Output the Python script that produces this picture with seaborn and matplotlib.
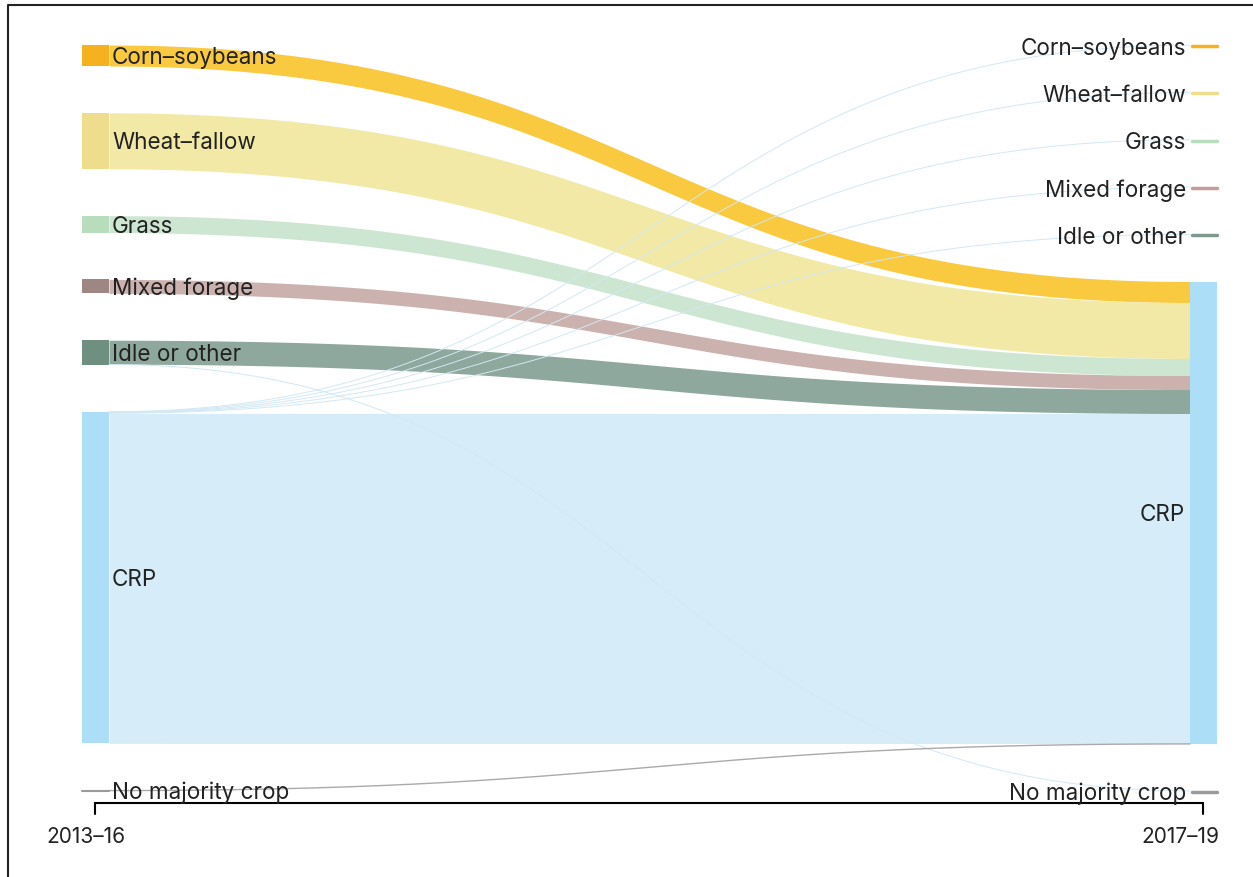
import numpy as np
import matplotlib
matplotlib.use("Agg")
import matplotlib.pyplot as plt
import seaborn as sns

sns.set_theme(style="white")
plt.rcParams['font.family'] = ['Inter', 'DejaVu Sans']

# ---- data ----
categories = ["Corn\u2013soybeans", "Wheat\u2013fallow", "Grass", "Mixed forage",
              "Idle or other", "CRP", "No majority crop"]
flow_source = ["Corn\u2013soybeans", "Wheat\u2013fallow", "Grass", "Mixed forage",
               "Idle or other", "Idle or other",
               "CRP", "CRP", "CRP", "CRP", "CRP", "CRP", "No majority crop"]
flow_target = ["CRP", "CRP", "CRP", "CRP",
               "CRP", "No majority crop",
               "Corn\u2013soybeans", "Wheat\u2013fallow", "Grass", "Mixed forage",
               "Idle or other", "CRP", "CRP"]
flow_value = [21, 56, 17, 14, 24, 0.6, 0.3, 0.5, 0.3, 0.3, 0.4, 330, 0.8]
period_labels = ["2013\u201316", "2017\u201319"]

node_colors = {"Corn\u2013soybeans": "#F5B120", "Wheat\u2013fallow": "#EEDD8C",
               "Grass": "#B8DDBD", "Mixed forage": "#9E8782",
               "Idle or other": "#6F9080", "CRP": "#ACDFF7", "No majority crop": "#9A9A9A"}
right_mark_colors = {"Corn\u2013soybeans": "#F5B120", "Wheat\u2013fallow": "#EEDD8C",
                     "Grass": "#B8DDBD", "Mixed forage": "#C49C9A",
                     "Idle or other": "#7E9A8E", "CRP": "#ACDFF7", "No majority crop": "#9A9A9A"}
flow_colors = {"Corn\u2013soybeans": "#F9C940", "Wheat\u2013fallow": "#F3E9A6",
               "Grass": "#CDE6D2", "Mixed forage": "#CCB2AF",
               "Idle or other": "#8FA89D", "CRP": "#D6ECF9", "No majority crop": "#AAAAAA"}

# ---- layout ----
W, H = 1253, 877
fig = plt.figure(figsize=(W/100, H/100), dpi=100)
ax = fig.add_axes([0, 0, 1, 1])
ax.set_xlim(0, W); ax.set_ylim(H, 0); ax.axis("off")

top = 45
gaps = (46.8, 46.3)
xl0, xl1 = 82, 109
xr0, xr1 = 1190, 1217
FS = 16.2

def node_totals(side):
    tot = {c: 0.0 for c in categories}
    for s, t, v in zip(flow_source, flow_target, flow_value):
        tot[s if side == 0 else t] += v
    return tot

pos = []
for side in (0, 1):
    tot = node_totals(side)
    y = top
    p = {}
    for c in categories:
        h = tot[c]
        p[c] = [y, h]
        y += max(h, 1) + gaps[side]
    pos.append(p)

src_off = {c: pos[0][c][0] for c in categories}
tgt_off = {c: pos[1][c][0] for c in categories}
src_y, tgt_y = {}, {}
for i in sorted(range(len(flow_value)),
                key=lambda i: (categories.index(flow_source[i]), categories.index(flow_target[i]))):
    src_y[i] = src_off[flow_source[i]]; src_off[flow_source[i]] += flow_value[i]
for i in sorted(range(len(flow_value)),
                key=lambda i: (categories.index(flow_target[i]), categories.index(flow_source[i]))):
    tgt_y[i] = tgt_off[flow_target[i]]; tgt_off[flow_target[i]] += flow_value[i]

t = np.linspace(0, 1, 600)
xm = (xl1 + xr0) / 2
bx = xl1*(1-t)**3 + 3*xm*(1-t)**2*t + 3*xm*(1-t)*t**2 + xr0*t**3
bs = 3*t**2 - 2*t**3
xs = np.linspace(xl1, xr0, 600)
s = np.interp(xs, bx, bs)
for i, v in enumerate(flow_value):
    y0, y1 = src_y[i], tgt_y[i]
    yt = y0 + (y1 - y0) * s
    col = flow_colors[flow_source[i]]
    if v >= 2:
        ax.fill_between(xs, yt, yt + v, color=col, lw=0)
    elif flow_source[i] == "No majority crop":
        ax.plot(xs, yt + v / 2, color="#AAAAAA", lw=1.0)
    else:
        ax.plot(xs, yt + v / 2, color="#D2E8F4", lw=0.7)

dy = 2.5
for c in categories:
    y, h = pos[0][c]
    if h >= 2:
        ax.fill_between([xl0, xl1], y, y + h, color=node_colors[c], lw=0)
    else:
        ax.plot([xl0, xl1], [y + h/2, y + h/2], color=node_colors[c], lw=1.5)
    ax.text(xl1 + 3, y + h/2 + dy, c, ha="left", va="center", fontsize=FS, color="#222222")
    y, h = pos[1][c]
    if h >= 2:
        ax.fill_between([xr0, xr1], y, y + h, color=right_mark_colors[c], lw=0)
        ax.text(xr0 - 5, y + h/2 + dy, c, ha="right", va="center", fontsize=FS, color="#222222")
    else:
        ax.plot([xr0 + 2, xr1], [y + 1, y + 1], color=right_mark_colors[c], lw=2.5)
        ax.text(xr0 - 4, y + 1 + dy, c, ha="right", va="center", fontsize=FS, color="#222222")

ya = 803
ax.plot([95, 1203], [ya, ya], color="black", lw=1.5)
for x, lab in zip([95, 1203], period_labels):
    ax.plot([x, x], [ya, ya + 11], color="black", lw=1.5)
    ax.text(x - 9 if x < 600 else x - 23, ya + 34, lab, ha="center", va="center",
            fontsize=15, color="#222222")

ax.plot([8, 8, W + 5], [H + 5, 5, 5], color="#222222", lw=1.5)

fig.savefig("out.png", dpi=100)
